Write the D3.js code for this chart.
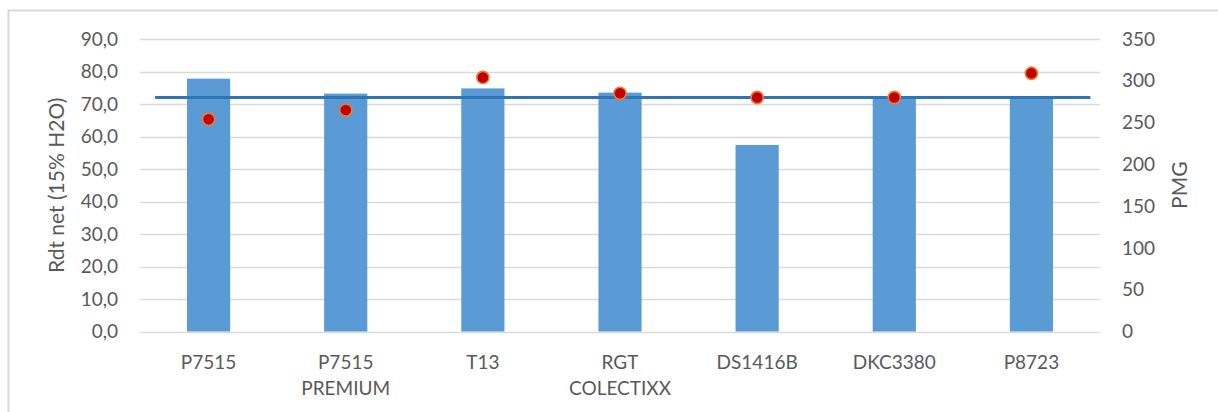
<!DOCTYPE html>
<html>
<head>
<meta charset="utf-8">
<script src="https://cdn.jsdelivr.net/npm/d3@7"></script>
<style>
  html, body { margin: 0; padding: 0; background: #fff; }
  svg { display: block; }
  text { font-family: Lato, "Open Sans", sans-serif; fill: #595959; }
</style>
</head>
<body>
<svg id="chart" width="1218" height="412"></svg>
<script>
// ---- data ----
const categories = [["P7515"], ["P7515", "PREMIUM"], ["T13"], ["RGT", "COLECTIXX"], ["DS1416B"], ["DKC3380"], ["P8723"]];
const rdtValues = [77.8, 73.2, 74.8, 73.5, 57.4, 72.4, 72.2];
const pmgValues = [254, 265, 304, 285, 280, 280, 309];
const refLineValue = [72.0];
const refLineExtent = [0.11, 6.93]; // in category-index units
const leftTicks = [0, 10, 20, 30, 40, 50, 60, 70, 80, 90];
const rightTicks = [0, 50, 100, 150, 200, 250, 300, 350];
const leftTitle = "Rdt net (15% H2O)";
const rightTitle = "PMG";

// ---- layout ----
const svg = d3.select("#chart");
const plot = { left: 140, right: 1100, top: 39, bottom: 331.5 };

const keys = categories.map((c, i) => i);
const x = d3.scaleBand().domain(keys).range([plot.left, plot.right]).paddingInner(0.685).paddingOuter(0.3425);
const xi = d3.scaleLinear().domain([0, categories.length]).range([plot.left, plot.right]);
const yL = d3.scaleLinear().domain([0, 90]).range([plot.bottom, plot.top]);
const yR = d3.scaleLinear().domain([0, 350]).range([plot.bottom, plot.top]);

// outer frame (left & top)
svg.append("path")
  .attr("d", d3.line()([[8.5, 412], [8.5, 10.5], [1218, 10.5]]))
  .attr("fill", "none").attr("stroke", "#D9D9D9").attr("stroke-width", 2);

// gridlines
svg.append("g").selectAll("line").data(leftTicks).join("line")
  .attr("x1", plot.left).attr("x2", plot.right)
  .attr("y1", d => Math.round(yL(d)) + 0.5).attr("y2", d => Math.round(yL(d)) + 0.5)
  .attr("stroke", "#D9D9D9").attr("stroke-width", 1.3);

// bars
svg.append("g").selectAll("rect").data(rdtValues).join("rect")
  .attr("x", (d, i) => x(i)).attr("width", x.bandwidth())
  .attr("y", d => yL(d)).attr("height", d => yL(0) - yL(d))
  .attr("fill", "#5B9BD5");

// reference line
svg.append("line")
  .attr("x1", xi(refLineExtent[0])).attr("x2", xi(refLineExtent[1]))
  .attr("y1", yL(refLineValue[0])).attr("y2", yL(refLineValue[0]))
  .attr("stroke", "#2E75B6").attr("stroke-width", 2.8);

// PMG dots
svg.append("g").selectAll("circle").data(pmgValues).join("circle")
  .attr("cx", (d, i) => x(i) + x.bandwidth() / 2)
  .attr("cy", d => yR(d))
  .attr("r", 6.1)
  .attr("fill", "#C00000").attr("stroke", "#ED7D31").attr("stroke-width", 1.6);

// left axis
const fmt = d3.format(".1f");
const axL = svg.append("g").attr("transform", `translate(${plot.left - 22},0)`)
  .call(d3.axisLeft(yL).tickValues(leftTicks).tickSize(0).tickPadding(0).tickFormat(d => fmt(d).replace(".", ",")));
axL.select(".domain").remove();
axL.selectAll("text").style("font-size", "19px").style("font-family", "Lato, sans-serif").attr("fill", "#595959");

// right axis
const axR = svg.append("g").attr("transform", `translate(${plot.right + 22},0)`)
  .call(d3.axisRight(yR).tickValues(rightTicks).tickSize(0).tickPadding(0));
axR.select(".domain").remove();
axR.selectAll("text").style("font-size", "19px").style("font-family", "Lato, sans-serif").attr("fill", "#595959");

// category labels
const cat = svg.append("g").selectAll("text").data(categories).join("text")
  .attr("x", (d, i) => x(i) + x.bandwidth() / 2)
  .attr("y", 369)
  .attr("text-anchor", "middle")
  .style("font-size", "19px");
cat.selectAll("tspan").data(d => d).join("tspan")
  .attr("x", function() { return d3.select(this.parentNode).attr("x"); })
  .attr("dy", (d, i) => i === 0 ? 0 : 26)
  .text(d => d);

// axis titles
svg.append("text")
  .attr("transform", `translate(64,${(plot.top + plot.bottom) / 2}) rotate(-90)`)
  .attr("text-anchor", "middle")
  .style("font-size", "21px")
  .text(leftTitle);
svg.append("text")
  .attr("transform", `translate(1187,${(plot.top + plot.bottom) / 2}) rotate(-90)`)
  .attr("text-anchor", "middle")
  .style("font-size", "21px")
  .text(rightTitle);
</script>
</body>
</html>
